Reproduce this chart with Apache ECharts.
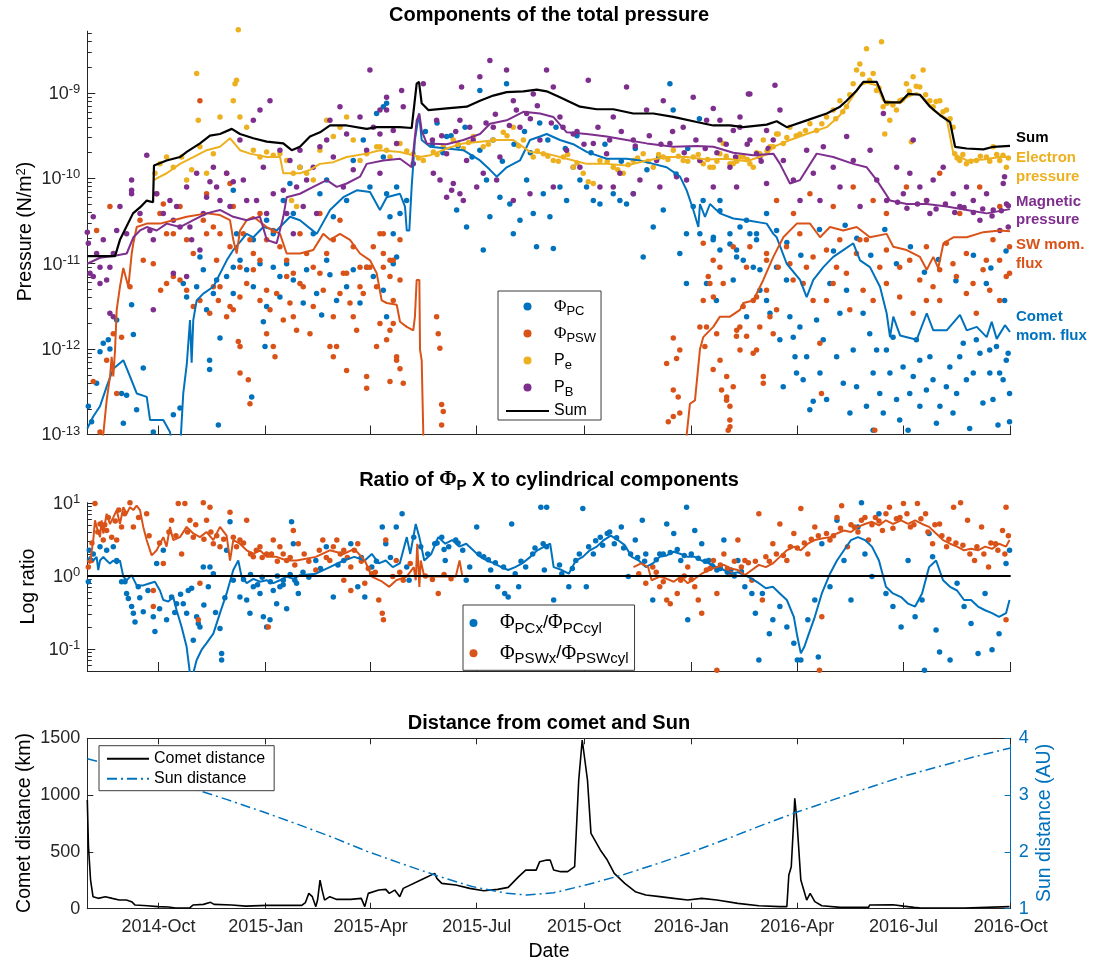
<!DOCTYPE html>
<html><head><meta charset="utf-8">
<script src="https://cdn.jsdelivr.net/npm/echarts@6/dist/echarts.min.js"></script>
<style>html,body{margin:0;padding:0;background:#fff}#c{width:1094px;height:962px}</style>
</head><body><div id="c"></div>
<script>
// x values: days since 2014-08-01; top panel y values stored as log10(pressure in N/m^2)
const tickDays = [61,153,243,334,426,518,609,700,792];
const tickLabels = ['2014-Oct','2015-Jan','2015-Apr','2015-Jul','2015-Oct','2016-Jan','2016-Apr','2016-Jul','2016-Oct'];

const sumLine = [[0,-10.91],[23.8,-10.91],[28,-10.72],[39.2,-10.41],[45.2,-10.34],[51,-10.26],[56.4,-10.28],[57.2,-9.85],[68,-9.79],[79.5,-9.75],[85.3,-9.69],[96.7,-9.59],[105.2,-9.5],[113.8,-9.48],[123.9,-9.42],[131,-9.48],[142.4,-9.53],[153.9,-9.57],[168.1,-9.59],[175.3,-9.67],[182.4,-9.63],[191,-9.51],[199.6,-9.46],[208.2,-9.38],[222.5,-9.38],[239.6,-9.42],[248.2,-9.4],[268.2,-9.4],[278.2,-9.41],[282.5,-8.89],[284.5,-8.87],[286.8,-9.12],[292.5,-9.2],[308.3,-9.18],[325.4,-9.16],[336.8,-9.09],[348.2,-9.03],[359.7,-8.99],[374,-8.98],[385.5,-8.96],[394,-8.98],[405.4,-9.05],[422.6,-9.16],[436.9,-9.19],[451.2,-9.19],[468.3,-9.24],[485.5,-9.24],[502.6,-9.28],[522.7,-9.34],[536.9,-9.38],[551.2,-9.38],[562.7,-9.4],[582.7,-9.37],[591.3,-9.33],[599.9,-9.4],[617,-9.32],[634.2,-9.24],[645.6,-9.16],[651.3,-9.09],[659.9,-8.97],[665.6,-8.87],[677.1,-8.87],[681.4,-9.01],[684.2,-9.11],[697.1,-9.11],[704.2,-9.01],[714.2,-9.02],[722.8,-9.16],[731.4,-9.26],[740,-9.34],[744.3,-9.63],[754.3,-9.65],[768.5,-9.66],[777.1,-9.63],[791.4,-9.62]];

const peLine = [[57.5,-10.02],[59.5,-10.0],[68.1,-9.94],[79.5,-9.83],[90.9,-9.75],[102.4,-9.67],[113.8,-9.63],[122.4,-9.53],[131,-9.67],[139.5,-9.71],[153.9,-9.75],[165.3,-9.75],[168.1,-9.94],[182.4,-9.94],[191,-9.9],[199.6,-9.83],[211,-9.81],[222.5,-9.75],[239.6,-9.71],[251,-9.67],[268.2,-9.69],[279.6,-9.73],[285.4,-9.75],[294,-9.73],[308.3,-9.65],[322.5,-9.59],[336.8,-9.57],[351.1,-9.55],[365.4,-9.55],[379.7,-9.69],[394,-9.71],[411.2,-9.77],[428.3,-9.83],[445.5,-9.83],[462.6,-9.85],[479.8,-9.79],[496.9,-9.75],[514.1,-9.75],[531.3,-9.78],[548.4,-9.77],[565.6,-9.8],[582.7,-9.72],[588.4,-9.63],[602.7,-9.55],[617,-9.48],[634.2,-9.4],[645.6,-9.26],[654.2,-9.09],[662.8,-8.91],[668.5,-8.88],[677.1,-8.91],[682.7,-9.09],[697.1,-9.12],[702.8,-9.05],[711.4,-9.0],[720,-9.09],[725.6,-9.2],[737.1,-9.3],[742.8,-9.71],[754.3,-9.79],[768.5,-9.78],[782.8,-9.75],[791.4,-9.75]];

const pbLine = [[0,-11.0],[10.9,-10.93],[22.3,-10.91],[33.8,-10.88],[39.5,-10.69],[45.2,-10.61],[51,-10.57],[59.5,-10.61],[68.1,-10.53],[79.5,-10.57],[90.9,-10.49],[102.4,-10.41],[113.8,-10.37],[125.2,-10.45],[136.7,-10.49],[148.1,-10.45],[153.9,-10.72],[162.4,-10.76],[168.1,-10.45],[171,-10.22],[182.4,-10.18],[193.8,-10.1],[205.3,-10.02],[213.9,-10.1],[222.5,-10.06],[233.9,-9.98],[239.6,-9.83],[253.9,-9.79],[268.2,-9.77],[278.2,-9.87],[282.5,-9.32],[284.8,-9.24],[286.8,-9.44],[291.1,-9.59],[308.3,-9.6],[322.5,-9.55],[336.8,-9.48],[345.4,-9.36],[359.7,-9.32],[374,-9.22],[388.3,-9.24],[399.7,-9.28],[411.2,-9.46],[428.3,-9.48],[445.5,-9.51],[462.6,-9.55],[479.8,-9.59],[502.6,-9.63],[522.7,-9.62],[536.9,-9.63],[554.1,-9.7],[571.2,-9.73],[588.4,-9.71],[594.1,-9.83],[602.7,-10.06],[611.3,-10.02],[625.6,-9.71],[639.8,-9.75],[657,-9.83],[668.5,-9.87],[677.1,-10.02],[688.5,-10.26],[702.8,-10.3],[720,-10.3],[737.1,-10.33],[754.3,-10.37],[771.4,-10.41],[791.4,-10.36]];

const pcLine = [[0,-12.93],[5.1,-12.79],[10.9,-12.67],[16.6,-12.44],[22.3,-12.23],[30.9,-12.13],[36.6,-12.32],[42.4,-12.52],[51,-12.56],[53.8,-12.83],[65.2,-12.83],[70.9,-12.97],[73.8,-13.2],[79.5,-13.2],[82.3,-12.52],[85.3,-12.18],[88.1,-11.66],[89.5,-12.16],[90.9,-11.66],[93.8,-11.43],[99.5,-11.35],[108.1,-11.27],[119.6,-10.96],[125.2,-10.84],[136.7,-10.65],[142.4,-10.69],[151,-10.57],[162.4,-10.61],[173.9,-10.45],[182.4,-10.49],[196.8,-10.65],[208.2,-10.37],[219.6,-10.22],[231.1,-10.14],[242.5,-10.16],[251,-10.37],[256.8,-10.22],[268.2,-10.18],[272.5,-10.33],[274,-10.61],[276.2,-10.61],[278.2,-10.1],[281,-9.55],[284.5,-9.24],[286.8,-9.55],[294,-9.63],[308.3,-9.65],[322.5,-9.67],[336.8,-9.79],[345.4,-9.9],[351.1,-9.98],[359.7,-9.87],[371.1,-9.79],[379.7,-9.55],[388.3,-9.51],[394,-9.48],[405.4,-9.55],[416.8,-9.6],[428.3,-9.69],[445.5,-9.77],[462.6,-9.77],[474,-9.79],[485.5,-9.83],[496.9,-9.87],[508.4,-9.98],[514.1,-10.14],[519.8,-10.37],[524.1,-10.57],[525.5,-10.3],[529.8,-10.45],[534.1,-10.3],[542.6,-10.41],[554.1,-10.47],[565.6,-10.49],[582.7,-10.53],[588.4,-10.65],[591.3,-10.69],[599.9,-11.0],[611.3,-11.19],[617,-11.39],[622.7,-11.19],[631.3,-11.04],[639.8,-10.92],[648.4,-10.84],[657,-10.76],[662.8,-10.96],[671.3,-11.04],[679.9,-11.27],[685.6,-11.58],[688.5,-11.86],[691.3,-11.62],[697.1,-11.84],[711.4,-11.89],[720,-11.58],[725.6,-11.78],[737.1,-11.78],[748.5,-11.6],[754.3,-11.78],[762.9,-11.74],[771.4,-11.86],[775.7,-11.68],[780,-11.88],[787.1,-11.72],[791.4,-11.8]];

const pswLineA = [[12.5,-13.5],[13.7,-13.0],[16.6,-12.6],[19.5,-12.32],[20.9,-12.09],[22.3,-12.32],[23.8,-12.01],[25.2,-11.54],[28,-11.27],[30.9,-11.05],[35.2,-11.27],[38.1,-10.88],[39.5,-10.76],[42.4,-10.57],[51,-10.53],[62.4,-10.53],[73.8,-10.49],[85.3,-10.45],[102.4,-10.41],[113.8,-10.43],[122.4,-10.49],[125.2,-10.72],[128.1,-10.88],[131,-10.61],[136.7,-10.49],[142.4,-10.45],[153.9,-10.57],[165.3,-10.65],[171,-10.88],[182.4,-10.88],[193.8,-10.84],[202.4,-10.65],[208.2,-10.72],[216.7,-10.65],[225.3,-10.72],[233.9,-10.88],[242.5,-10.96],[248.2,-11.11],[252.5,-11.43],[256.8,-11.46],[265.4,-11.48],[268.2,-11.68],[274,-11.74],[279.6,-11.78],[281,-11.62],[282.5,-11.19],[284.8,-11.19],[285.4,-12.01],[286.8,-12.13],[288.2,-13.0],[289.6,-13.5]];
const pswLineB = [[513.5,-13.5],[514.1,-13.0],[516.9,-12.64],[521.2,-12.6],[525.5,-12.0],[528.3,-11.86],[536.9,-11.74],[542.6,-11.62],[551.2,-11.62],[559.8,-11.54],[562.7,-11.46],[571.2,-11.43],[579.8,-11.19],[588.4,-10.92],[597,-10.69],[608.5,-10.53],[619.9,-10.53],[628.5,-10.69],[637,-10.57],[648.4,-10.61],[659.9,-10.57],[671.3,-10.69],[685.6,-10.65],[691.3,-10.8],[702.8,-10.84],[714.2,-10.92],[720,-11.07],[725.6,-10.92],[729.9,-11.05],[734.3,-10.76],[742.8,-10.69],[754.3,-10.69],[768.5,-10.63],[782.8,-10.61],[791.4,-10.62]];

const pcDots = [[0.9,-12.67],[3.7,-12.85],[8,-12.4],[10.9,-12.03],[13.7,-11.93],[18,-11.89],[19.4,-12.0],[25.2,-11.66],[29.4,-12.52],[30.9,-12.87],[33.7,-12.54],[38,-11.48],[39.5,-11.83],[42.3,-12.71],[48,-12.22],[56.6,-12.97],[73.8,-12.77],[79.5,-12.69],[82.3,-11.23],[85.2,-11.39],[93.8,-11.27],[99.5,-11.07],[104.9,-12.24],[104.9,-12.13],[108.1,-11.35],[112.4,-12.89],[113.8,-11.87],[119.5,-11.15],[125.2,-11.04],[136.7,-11.07],[141,-12.56],[142.4,-11.27],[151,-11.68],[152.4,-11.97],[159.5,-11.04],[165.2,-11.15],[171,-11.0],[185.2,-11.46],[201,-11.6],[208.1,-11.13],[222.4,-11.27],[239.6,-11.04],[253.9,-11.31],[256.7,-11.62],
[125.2,-10.14],[128,-10.65],[142.4,-10.72],[153.8,-10.49],[159.5,-10.65],[168.1,-10.26],[173.8,-10.06],[176.7,-10.41],[182.4,-9.87],[193.8,-10.65],[199.5,-10.18],[205.3,-10.02],[211,-10.45],[222.4,-10.26],[228.1,-9.79],[236.7,-9.55],[242.4,-10.1],[248.1,-9.24],[253.9,-9.75],[256.7,-9.12],[259.6,-10.45],[265.3,-10.1],
[96.6,-10.92],[102.3,-11.54],[110.9,-11.19],[125.2,-11.35],[131,-10.96],[148.1,-11.0],[153.8,-11.5],[165.2,-11.39],[176.7,-11.19],[188.1,-11.07],[196.7,-11.35],[205.3,-10.96],[213.8,-11.43],[228.1,-11.07],[233.9,-11.46],[245.3,-11.15],[262.4,-11.0],
[253.9,-9.16],[256.7,-10.18],[262.4,-10.65],[265.3,-10.92],[268.2,-10.41],[273.9,-10.26],[308.2,-9.51],[316.8,-10.37],[325.3,-10.57],[336.7,-8.97],[336.7,-9.67],[339.6,-10.84],[342.4,-10.02],[345.3,-10.45],[353.9,-10.22],[359.6,-8.89],[362.4,-10.3],[365.4,-10.65],[371.1,-10.49],[376.8,-10.02],[382.5,-10.41],[385.3,-10.8],[391.1,-10.18],[396.8,-10.45],[399.7,-10.82],[405.4,-10.1],[411.1,-10.26],[416.8,-9.87],[422.5,-10.02],[428.2,-10.1],[434,-10.26],[439.7,-10.3],[451.1,-10.18],[456.8,-10.26],[462.5,-10.3],[468.3,-10.18],[476.8,-10.92],[485.4,-10.57],[494,-10.37],[499.7,-8.89],[502.5,-9.2],[508.2,-10.88],[513.9,-10.65],[513.9,-11.23],[519.7,-10.33],[528.2,-10.26],[536.8,-10.72],[542.6,-10.26],[551.2,-10.65],[556.9,-10.84],[565.4,-10.49],[574,-10.65],[582.6,-10.41],[591.2,-10.61],
[290,-9.45],[296,-9.6],[300,-9.35],[305,-9.7],[312,-9.5],[318,-9.62],[324,-9.4],[330,-9.75],[348,-9.55],[356,-9.8],[366,-9.6],[375,-9.45],[380,-9.7],[388,-9.35],[395,-9.55],[402,-9.4],[410,-9.65],[420,-9.5],[432,-9.7],[444,-9.6],[458,-9.8],[470,-9.65],[480,-9.9],[490,-9.75],[505,-9.95],[515,-9.65],[525,-9.3],
[525.4,-10.65],[537,-10.69],[542.6,-10.84],[551.2,-10.77],[556.9,-10.92],[562.6,-10.96],[568.3,-10.65],[576.9,-11.31],[582.6,-11.43],[585.5,-11.58],[591.2,-11.04],[599.7,-11.19],[602.6,-11.62],[605.5,-11.86],[607,-12.09],[608.3,-12.28],[611.2,-11.74],[614,-12.36],[619.7,-12.71],[622.6,-12.61],[625.5,-11.66],[631.2,-11.89],[636.9,-11.23],[645.5,-11.58],[651.2,-11.31],[656.9,-12.01],[665.4,-11.58],[668.3,-12.67],[671.1,-11.82],[674,-12.28],[674,-12.95],[679.7,-12.52],[685.4,-12.01],[691.1,-11.86],[696.8,-12.83],[699.7,-12.21],[704,-12.95],[705.4,-12.52],[711.1,-11.89],[714,-12.13],[719.7,-12.48],[725.4,-12.36],[728.3,-12.87],[736.8,-12.44],[742.5,-12.75],[748.3,-12.09],[754,-12.36],[756.8,-12.93],[762.5,-11.89],[768.2,-12.63],[771.1,-11.23],[774,-12.01],[776.8,-12.59],[781.1,-12.89],[782.5,-12.28],[786.8,-11.43],[788.2,-12.13],[791,-12.52],[791,-12.85],[542.6,-10.38],[559.8,-10.57],[574,-10.72],[576.9,-11.07],
[531.1,-11.23],[539.6,-11.43],[554,-11.19],[565.5,-11.62],[571.2,-11.04],[594,-11.89],[596.9,-12.44],[617,-12.09],[628.4,-12.28],[634.1,-12.59],[642.7,-12.09],[648.4,-12.4],[654.1,-12.75],[659.8,-12.44],[677,-12.01],[682.7,-12.75],[688.4,-12.28],[694.1,-12.59],[708.4,-12.32],[714.1,-12.67],[722.7,-12.09],[731.3,-12.67],[739.8,-12.21],[745.6,-12.52],[751.3,-11.93],[759.9,-12.28],[765.6,-12.05],[774.1,-12.28],[779.8,-11.97],[785.5,-12.36],[789.8,-12.05],
[600,-10.75],[612,-10.9],[628,-10.6],[640,-10.85],[650,-10.55],[660,-10.7],[672,-10.9],[684,-10.6],[694,-11.0],[706,-10.8],[718,-11.1],[730,-10.95],[745,-11.2],[760,-10.9],[775,-11.05],[788,-10.85]];

const pswDots = [[5.1,-12.38],[10.9,-12.97],[16.6,-12.13],[22.3,-11.82],[25.2,-12.52],[29.4,-11.86],[36.6,-11.27],[48,-10.96],[56.6,-11.0],[62.9,-11.31],[68,-11.23],[73.8,-11.15],[79.5,-11.19],[85.2,-11.31],[90.9,-11.5],[96.6,-11.43],[105,-11.58],[113.8,-11.27],[122.4,-11.5],[129.5,-11.91],[131,-11.97],[131,-12.28],[138.1,-12.36],[139.5,-12.64],[153.8,-11.31],[156.7,-11.54],[159.5,-11.97],[161,-12.09],[171,-11.15],[176.7,-11.62],[182.4,-11.23],[191,-11.82],[199.5,-11.11],[208.1,-11.97],[211,-12.09],[216.7,-11.35],[222.4,-12.25],[228.1,-11.62],[233.9,-11.27],[239.6,-12.32],[239.6,-12.46],[248.1,-11.97],
[108.1,-11.27],[112.4,-11.43],[119.5,-11.62],[125.2,-11.54],[130.9,-11.39],[136.7,-11.23],[142.4,-11.07],[148.1,-11.43],[153.8,-11.82],[162.4,-11.35],[168.1,-11.66],[173.8,-11.46],[179.5,-11.78],[185.2,-11.27],[193.8,-11.5],[202.4,-11.31],[211,-11.62],[213.8,-11.97],[219.6,-11.11],[225.3,-11.46],[231,-11.78],[236.7,-11.35],[242.4,-11.04],[251,-11.7],[256.7,-11.89],[262.4,-11.43],[265.3,-12.13],
[8,-10.61],[19.4,-10.33],[45.2,-10.49],[59.5,-10.18],[65.2,-10.3],[73.8,-10.65],[85.2,-10.72],[96.6,-9.09],[99.5,-10.49],[102.3,-10.18],[108.1,-10.57],[113.8,-10.65],[119.5,-9.94],[122.4,-10.06],[125.2,-10.33],[133.8,-10.65],[142.4,-10.88],[148.1,-10.41],[153.8,-10.72],[159.5,-10.61],[171,-10.96],[182.4,-10.65],[188.1,-10.88],[199.5,-10.41],[211,-10.72],[216.7,-10.49],[228.1,-10.8],[233.9,-11.04],[245.3,-10.8],[253.9,-10.65],[259.6,-10.96],
[62.3,-10.41],[68,-10.65],[79.5,-10.33],[90.9,-10.88],[102.3,-10.65],[110.9,-10.96],[122.4,-10.8],[130.9,-11.04],[139.5,-10.72],[148.1,-10.96],[165.2,-10.8],[176.7,-11.11],[193.8,-11.04],[205.3,-10.88],[222.4,-11.11],[239.6,-11.04],[248.1,-11.27],
[251,-10.65],[253.9,-10.88],[259.6,-11.15],[262.4,-10.96],[268.2,-10.72],[268.2,-11.19],[253.9,-11.04],[259.6,-11.78],[262.4,-11.7],[265.3,-12.09],[268.2,-12.23],[271,-12.4],[259.6,-12.38],[299.6,-11.62],[301,-11.82],[302.4,-11.99],[303.9,-12.65],[305.3,-12.73],[303.9,-12.89],
[496.9,-12.17],[502.6,-11.87],[505.4,-12.11],[508.2,-12.01],[502.6,-12.48],[506.8,-12.56],[508.2,-12.75],[498.3,-12.85],[502.6,-12.79],[525.4,-11.74],[529.7,-11.97],[532.6,-11.15],[537,-11.39],[539.8,-11.82],[542.7,-12.13],[548.4,-12.32],[548.4,-12.56],[551.2,-12.67],[551.2,-12.91],[557,-11.78],[559.8,-12.01],[565.5,-11.85],[574,-12.01],[579.8,-12.32],[579.8,-12.4],[571.2,-11.43],[585.5,-11.62],
[528.3,-11.43],[531.1,-11.74],[536.8,-12.24],[544,-12.48],[548.3,-12.6],[551.1,-12.83],[554,-12.44],[549.7,-12.95],[534,-11.23],[542.6,-11.04],[556.8,-11.85],[562.5,-11.5],[571.1,-12.05],[576.8,-11.74],[582.6,-11.31],[588.3,-11.82],[592.6,-11.04],[599.7,-10.8],[605.4,-11.19],[611.1,-10.65],[616.8,-11.04],[622.5,-11.43],[629.7,-12.52],[628.3,-11.93],[634,-10.84],[639.7,-11.23],[645.4,-10.72],[651.1,-11.11],[659.7,-10.88],[665.4,-11.31],[668.2,-10.72],[675.4,-12.95],[679.7,-11.04],[685.4,-10.84],[696.8,-11.39],[705.4,-10.96],[714,-11.19],[719.7,-11.43],[725.4,-11.27],[731.1,-11.07],[736.8,-10.76],[745.4,-11.15],[754,-10.88],[759.7,-11.23],[768.3,-11.07],[774,-11.31],[776.8,-10.72],[782.5,-10.96],[788.2,-11.15],[791,-10.8],
[528.3,-10.76],[536.8,-10.96],[545.4,-11.23],[554,-10.8],[559.7,-11.74],[565.4,-11.04],[574,-11.39],[582.6,-10.88],[591.2,-11.54],[602.6,-11.0],[614,-11.23],[622.5,-10.92],[634,-11.43],[642.6,-11.04],[654,-11.54],[662.6,-10.72],[674,-11.43],[685.4,-11.23],[696.8,-11.04],[708.3,-11.58],[719.7,-10.8],[731.1,-11.43],[742.5,-11.0],[754,-11.35],[762.5,-11.58],[771.1,-10.96],[782.5,-11.43],[791,-11.11],
[591.2,-10.26],[605.7,-10.41],[619.8,-10.18],[639.8,-10.33],[656.9,-10.1],[674,-10.26],[685.4,-10.41],[702.6,-10.1],[719.7,-10.26],[731.1,-9.94],[748.3,-10.41],[765.4,-10.1],[782.6,-10.33],[568.3,-10.8],[582.6,-10.96]];

const peDots = [[58,-9.94],[62.3,-9.83],[68,-9.75],[73.8,-9.87],[80.9,-9.75],[85.2,-10.02],[89.5,-9.9],[93.8,-8.77],[95.2,-9.32],[96.6,-9.63],[102.3,-9.94],[108.1,-9.71],[113.8,-9.28],[125.2,-9.09],[126.7,-8.89],[128,-8.85],[129.5,-8.26],[130.9,-9.28],[136.7,-9.4],[142.4,-9.67],[148.1,-9.75],[153.8,-9.69],[159.5,-9.73],[165.2,-9.71],[171,-9.79],[176.7,-9.94],[182.4,-9.87],[188.1,-9.94],[193.8,-10.02],[175.2,-10.26],[179.5,-10.33],[199.5,-9.67],[205.3,-9.32],[211,-9.51],[216.7,-9.4],[222.4,-9.28],[228.1,-9.55],[233.9,-9.79],[239.6,-9.71],[248.2,-9.63],[256.7,-9.67],[265.3,-9.59],
[251,-9.63],[259.6,-9.75],[268.2,-9.59],[279.6,-9.71],[288.2,-9.79],[296.8,-9.69],[305.3,-9.63],[313.9,-9.55],[322.5,-9.65],[331.1,-9.51],[339.6,-9.63],[348.2,-9.55],[356.8,-9.46],[365.4,-9.4],[374,-9.55],[382.5,-9.75],[391.1,-9.71],[399.7,-9.79],[408.3,-9.75],[416.8,-9.87],[425.4,-9.94],[429.7,-10.04],[434,-10.06],[439.7,-9.79],[451.1,-9.87],[459.7,-9.94],[468.3,-9.79],[476.8,-9.71],[485.4,-9.87],[494,-9.75],[502.6,-9.67],[511.1,-9.79],[519.7,-9.75],[528.3,-9.83],[536.9,-9.87],[545.5,-9.59],[554,-9.83],[562.6,-9.75],[571.2,-9.87],[579.8,-9.55],[588.3,-9.63],[592.6,-9.48],
[525.4,-9.79],[534,-9.87],[542.6,-9.71],[551.2,-9.83],[559.8,-9.75],[568.3,-9.83],[576.9,-9.71],[585.5,-9.63],[591.2,-9.48],[596.9,-9.59],[602.6,-9.4],[611.2,-9.48],[619.8,-9.36],[625.5,-9.44],[634.1,-9.28],[639.8,-9.2],[645.5,-9.09],[651.2,-9.16],[656.9,-8.89],[659.8,-8.73],[662.6,-8.66],[668.3,-8.48],[681.2,-8.4],[674,-8.77],[676.9,-8.97],[682.6,-9.16],[684,-9.48],[688.3,-9.32],[694,-9.2],[696.9,-9.09],[702.6,-8.89],[708.3,-8.81],[714,-8.93],[716.9,-8.73],[722.6,-9.09],[725.5,-9.16],[731.2,-9.09],[736.9,-9.2],[742.6,-9.4],[744,-9.71],[748.3,-9.79],[754,-9.83],[762.6,-9.79],[771.2,-9.75],[776.9,-9.63],[782.6,-9.79],[785.4,-9.73],[788.3,-9.87],[706.8,-9.57],
[274,-9.68],[284,-9.76],[300,-9.72],[318,-9.6],[327,-9.58],[344,-9.6],[360,-9.5],[370,-9.62],[386,-9.68],[395,-9.74],[404,-9.8],[412,-9.72],[420,-9.82],[446,-9.8],[455,-9.9],[464,-9.84],[472,-9.76],[481,-9.8],[490,-9.72],[498,-9.78],[507,-9.74],[515,-9.8],[524,-9.72],[532,-9.78],[540,-9.8],[548,-9.74],[557,-9.8],[566,-9.78],[574,-9.7],[583,-9.68],[600,-9.52],[608,-9.5],[616,-9.44],[630,-9.36],[642,-9.3],[648,-9.22],[654,-9.02],[665,-8.78],[671,-8.85],[679,-8.94],[686,-9.12],[691,-9.14],[699,-9.08],[705,-8.98],[711,-8.92],[719,-9.02],[728,-9.1],[734,-9.22],[740,-9.3],[746,-9.76],[751,-9.72],[758,-9.8],[766,-9.74],[774,-9.8],[780,-9.72],[790,-9.76]];

const pbDots = [[0,-10.63],[0.9,-10.76],[2.3,-11.11],[8,-10.88],[10.9,-11.04],[19.4,-11.04],[25.2,-10.61],[28,-10.33],[38,-10.02],[38,-10.14],[38,-10.18],[51,-9.73],[53.7,-10.61],[59.5,-10.18],[65.2,-10.41],[70.9,-10.26],[73.8,-10.49],[79.5,-10.57],[85.2,-10.1],[89.5,-10.72],[93.8,-9.94],[96.6,-10.84],[102.3,-10.22],[105.2,-10.04],[108.1,-9.87],[113.8,-10.26],[119.5,-9.94],[125.2,-10.04],[130.9,-9.55],[136.7,-10.26],[142.4,-9.32],[148.1,-9.2],[151,-9.87],[153.8,-10.41],[156.7,-9.09],[159.5,-10.18],[165.2,-9.67],[168.1,-10.14],[171,-10.41],[173.8,-9.79],[176.7,-10.65],[179.5,-10.1],[182.4,-9.67],[185.2,-10.33],[188.1,-10.02],[193.8,-9.87],[196.7,-10.41],[199.5,-9.63],[205.3,-9.55],[208.1,-9.32],[211,-9.75],[216.7,-9.16],[219.6,-10.1],[222.4,-9.48],[228.1,-9.9],[233.9,-9.28],[239.6,-9.67],[242.4,-8.73],[245.3,-9.4],[251,-9.2],[256.7,-9.05],[262.4,-9.44],[265.3,-9.59],
[5.1,-11.15],[10.9,-11.23],[16.6,-11.19],[19.4,-11.58],[22.3,-11.62],[56.6,-11.54],[73.8,-11.11],[85.2,-11.15],
[5.1,-10.45],[13.7,-10.72],[22.3,-10.88],[33.7,-10.65],[45.2,-10.41],[56.6,-10.72],[76.6,-10.33],[88,-10.57],[99.5,-10.41],[110.9,-10.1],[122.4,-10.33],[133.8,-10.02],[145.2,-10.26],
[251,-9.48],[256.7,-9.2],[269.6,-8.97],[271,-9.16],[279.6,-9.83],[288.2,-8.89],[299.6,-9.32],[302.5,-10.02],[308.2,-9.71],[313.9,-10.06],[319.6,-9.32],[321,-8.93],[325.3,-9.79],[331,-9.55],[336.7,-8.81],[339.6,-9.94],[345.3,-8.62],[348.2,-9.4],[353.9,-9.75],[359.6,-8.73],[365.4,-9.09],[371.1,-9.4],[376.8,-9.24],[382.5,-9.01],[388.2,-9.55],[393.9,-8.73],[399.7,-8.93],[405.4,-9.28],[411.1,-9.67],[416.8,-9.48],[422.5,-9.87],[429.7,-8.85],[434,-9.59],[439.7,-10.1],[445.4,-9.71],[451.1,-9.28],[456.8,-9.94],[462.5,-8.93],[468.3,-9.55],[474,-10.02],[479.7,-9.2],[488.3,-9.79],[494,-9.09],[499.7,-9.59],[505.4,-9.98],[511.1,-9.4],[519.7,-9.05],[525.4,-9.79],[531.2,-9.32],[536.9,-10.1],[542.6,-9.55],[551.2,-9.87],[559.7,-9.4],[568.3,-9.01],[574,-9.71],[582.6,-10.06],[588.3,-9.55],[312.5,-10.14],[308.2,-10.22],[319.6,-10.18],[251,-9.94],
[296.8,-9.94],[322.5,-10.26],[334,-10.1],[351.1,-10.02],[365.4,-10.26],[379.7,-10.18],[399.7,-10.1],[451.1,-10.1],[468.3,-10.18],[491.1,-10.1],[514,-10.02],[556.9,-10.1],
[296,-9.55],[304,-9.5],[316,-9.45],[328,-9.4],[342,-9.35],[350,-9.25],[362,-9.38],[368,-9.2],[380,-9.3],[386,-9.15],[398,-9.35],[408,-9.4],[420,-9.45],[426,-9.6],[438,-9.4],[448,-9.55],[458,-9.45],[470,-9.62],[482,-9.5],[492,-9.6],[502,-9.45],[512,-9.7],[522,-9.55],[530,-9.65],[540,-9.7],[548,-9.6],[556,-9.75],[566,-9.6],[578,-9.8],[584,-9.65],
[536.9,-9.18],[542.6,-9.32],[554.1,-9.44],[559.8,-9.28],[567,-9.01],[568.3,-9.55],[576.9,-9.75],[582.6,-9.44],[589.8,-8.91],[594.1,-9.2],[597,-9.79],[605.6,-10.02],[611.3,-10.26],[617,-9.67],[622.7,-9.94],[628.4,-10.26],[631.3,-9.63],[639.8,-9.87],[645.6,-10.1],[651.3,-9.51],[657,-9.79],[662.8,-10.33],[671.4,-9.67],[677.1,-10.02],[682.8,-9.24],[685.6,-10.26],[694.2,-9.87],[699.9,-10.18],[705.5,-9.94],[708.4,-9.55],[714.1,-10.1],[722.7,-10.41],[725.5,-10.02],[734.1,-9.87],[742.7,-10.18],[748.4,-10.33],[754.1,-10.1],[759.9,-10.26],[765.6,-10.49],[771.3,-10.18],[777,-10.37],[782.7,-10.61],[785.6,-10.06],[788.4,-10.3],[789.9,-10.57],[786.7,-9.98],
[695,-10.28],[703,-10.35],[712,-10.3],[720,-10.26],[728,-10.36],[736,-10.3],[744,-10.4],[752,-10.34],[760,-10.4],[768,-10.36],[776,-10.44],[784,-10.38],[790,-10.32]];

// middle panel: log10 of the ratio
const pcRatioLine = [[0,0.21],[2.3,0.26],[5.1,0.21],[8,0.26],[9.4,0.08],[10.9,0.21],[13.7,0.26],[16.6,0.21],[19.4,0.17],[22.3,0.21],[25.2,0.17],[28,0.21],[30.9,-0.01],[33.7,-0.06],[38,0.01],[42.3,-0.13],[48,-0.13],[53.7,-0.1],[58,-0.08],[62.3,-0.2],[65.2,-0.33],[69.5,-0.35],[73.7,-0.29],[76.6,-0.47],[80.9,-0.7],[85.2,-0.97],[88,-1.33],[90.9,-1.33],[93.8,-1.15],[98.1,-1.01],[102.3,-0.92],[108.1,-0.79],[113.8,-0.51],[119.5,-0.24],[125.2,0.08],[129.5,0.21],[132.3,-0.01],[136.7,-0.1],[142.4,-0.04],[148.1,-0.08],[153.8,-0.06],[159.5,-0.1],[165.2,-0.06],[171,-0.01],[176.7,-0.04],[182.4,0.01],[196,0.03],[208,0.12],[220,0.21],[229,0.26],[238,0.21],[244,0.3],[250,0.17],[256,0.21],[262,0.12],[268,0.17],[274,0.53],[277,0.3],[281.7,0.71],[284.8,0.53],[289,0.21],[295,0.3],[301,0.53],[307,0.44],[313,0.49],[319,0.4],[325,0.44],[331,0.35],[337,0.26],[343,0.21],[349,0.17],[355,0.12],[361,0.08],[367,0.12],[373,0.17],[380,0.26],[386,0.35],[392,0.4],[397,0.44],[400,0.12],[407,0.08],[413,0.03],[419,0.21],[425,0.26],[431,0.35],[437,0.4],[443,0.49],[449,0.55],[455,0.49],[461,0.42],[467,0.26],[473,0.21],[479,0.12],[485,0.17],[491,0.26],[497,0.28],[503,0.33],[509,0.3],[515,0.26],[521,0.26],[527,0.21],[533,0.17],[540,0.12],[546,0.08],[552,0.03],[558,0.05],[564,0.01],[570,-0.04],[576,-0.1],[582,-0.17],[588,-0.15],[594,-0.24],[600,-0.33],[606,-0.56],[609,-0.83],[612,-1.06],[615,-0.97],[618,-0.83],[624,-0.56],[630,-0.24],[637,0.03],[643,0.21],[649,0.35],[655,0.49],[661,0.53],[667,0.49],[673,0.4],[679,0.21],[685,-0.15],[691,-0.24],[698,-0.29],[704,-0.38],[710,-0.42],[716,-0.24],[722,0.12],[728,0.21],[734,-0.06],[740,-0.15],[746,-0.2],[752,-0.33],[758,-0.33],[764,-0.42],[770,-0.47],[776,-0.51],[782,-0.56],[788,-0.51],[791,-0.33]];

const pswRatioLineA = [[0,0.21],[2.3,0.17],[5.1,0.49],[6.6,0.76],[8,0.67],[10.9,0.53],[12.3,0.76],[13.7,0.58],[16.6,0.85],[19.4,0.71],[22.3,0.8],[25.2,0.9],[28,0.71],[30.9,0.94],[33.7,0.85],[36.6,0.94],[39.5,0.9],[42.3,0.96],[45.2,0.9],[48,0.67],[50.9,0.49],[55.2,0.28],[59.5,0.35],[65.2,0.53],[68,0.4],[70.9,0.67],[73.7,0.49],[79.5,0.53],[85.2,0.67],[90.9,0.58],[96.6,0.53],[102.3,0.6],[108.1,0.49],[113.8,0.67],[119.5,0.55],[122.4,0.21],[125.2,0.49],[130.9,0.44],[136.7,0.35],[142.4,0.3],[148.1,0.35],[153.8,0.26],[162.4,0.26],[171,0.21],[179.5,0.21],[196,0.26],[208,0.35],[220,0.3],[229,0.37],[238,0.21],[244,-0.01],[253,-0.08],[259,-0.15],[265,-0.06],[274,-0.01],[280,0.12],[281.7,-0.06],[283,0.44],[284.8,-0.15],[286,0.21],[289,-0.01],[298,-0.01],[310,-0.01],[316,-0.01],[319.3,0.21],[321.7,-0.01]];
const pswRatioLineB = [[468.5,0.12],[475,0.17],[481,0.12],[484,-0.06],[491,-0.01],[497,-0.04],[503,-0.08],[509,-0.01],[515,-0.1],[521,-0.04],[527,0.03],[533,0.08],[540,0.12],[546,0.15],[552,0.1],[558,0.08],[564,0.01],[570,0.08],[576,0.15],[582,0.12],[588,0.17],[594,0.26],[600,0.35],[606,0.4],[612,0.35],[618,0.44],[624,0.49],[630,0.51],[637,0.53],[643,0.58],[649,0.62],[655,0.6],[661,0.67],[667,0.71],[673,0.74],[679,0.69],[685,0.76],[691,0.71],[698,0.76],[704,0.71],[710,0.76],[716,0.71],[722,0.67],[728,0.58],[734,0.49],[740,0.44],[746,0.4],[752,0.35],[758,0.37],[764,0.35],[770,0.4],[776,0.37],[782,0.44],[788,0.4],[791,0.49]];

const pcRatioDots = [[0.9,-0.08],[1.7,0.35],[5.1,0.3],[10.9,0.4],[16.6,0.35],[22.3,0.4],[25.2,0.21],[29.4,-0.08],[32.3,-0.08],[33.7,-0.24],[35.2,-0.31],[38,-0.42],[39.5,-0.51],[40.9,-0.63],[43.7,-0.15],[48,-0.49],[56.6,-0.56],[58,-0.76],[59.5,0.17],[65.2,0.35],[72.3,-0.29],[76.6,-0.38],[82.3,-0.38],[85.2,-0.51],[86.6,-0.2],[89.5,-0.17],[90.9,-0.88],[93.8,-0.56],[95.2,-0.65],[96.6,-0.7],[99.5,0.12],[103.8,-0.15],[105.2,0.12],[108.1,0.03],[113.8,-0.72],[115.2,-1.06],[115.2,-1.15],[119.5,0.35],[122.4,0.74],[125.2,-0.06],[130.9,-0.29],[136.7,-0.33],[139.5,-0.51],[142.4,-0.15],[148.1,-0.24],[151,-0.56],[153.8,-0.7],[156.7,-0.6],[159.5,-0.2],[162.4,-0.38],[165.2,-0.15],[168.1,-0.06],[171,-0.45],[175.2,0.74],[176.7,0.44],[179.5,-0.1],[181,-0.24],
[45,-0.3],[52,-0.2],[62,-0.45],[68,-0.6],[75,-0.5],[80,-0.25],[100,-0.4],[110,-0.5],[118,-0.3],
[196,0.21],[205,0.4],[211,-0.29],[220,0.21],[226,0.44],[232,-0.15],[238,-0.29],[244,0.12],[253,0.67],[256,0.44],[265,0.67],[270,0.85],[274,0.12],[276,-0.06],[280,0.53],[286,0.4],[292,0.3],[298,0.44],[304,0.53],[307,0.21],[310,0.4],[316,0.49],[322,0.35],[325,-0.06],[328,0.12],[334,0.67],[340,0.26],[346,0.08],[352,-0.15],[358,-0.24],[361,-0.29],[364,0.71],[367,0.03],[370,-0.15],[376,0.12],[382,0.3],[389,0.94],[392,0.08],[394,0.4],
[391,0.44],[394,0.94],[400,-0.33],[407,0.03],[413,-0.15],[419,0.21],[425,0.92],[428,-0.15],[434,0.3],[440,0.53],[446,0.58],[452,0.44],[458,0.67],[464,-0.01],[470,0.49],[476,0.76],[479,0.3],[485,-0.33],[491,0.3],[497,0.71],[503,0.58],[509,0.21],[514,0.94],[515,-0.6],[521,0.62],[527,0.44],[533,0.21],[540,0.08],[546,0.49],[552,0.08],[558,0.21],[564,-0.15],[570,-0.24],[573,-0.51],[576,-1.15],[579,-0.24],[585,-0.79],[588,-0.6],[594,-0.42],[600,-0.7],[606,-0.92],[609,-1.15],[612,-1.15],[618,-0.6],[624,-0.33],[627,-1.11],[630,0.44],[637,-0.15],[643,0.76],[649,0.21],[655,-0.33],[661,0.67],[664,1.0],[667,0.3],[673,-0.01],[679,0.85],[685,-0.24],[691,-0.42],[698,-0.7],[704,0.21],[710,-0.56],[716,-0.33],[718,-1.29],[722,0.58],[725,0.26],[728,-0.74],[731,-1.04],[740,-1.15],[746,-0.1],[752,-0.42],[758,-0.65],[764,-1.06],[770,-0.24],[776,-1.01],[782,-0.79],[788,0.17],[791,0.35],
[134,-0.05],[140,0.02],[146,-0.12],[150,-0.02],[157,-0.08],[163,0.0],[168,-0.12],[174,0.02],[178,-0.06],[185,0.05],[190,-0.02],[200,0.1],[215,0.15],[235,0.25],[248,0.2],[260,0.25],[300,0.45],[306,0.36],[318,0.45],[336,0.3],[344,0.22],[350,0.18],[357,0.12],[372,0.2],[384,0.38],[405,0.15],[416,0.1],[422,0.3],[430,0.4],[436,0.48],[442,0.42],[448,0.6],[454,0.52],[460,0.38],[466,0.3],[472,0.25],[478,0.2],[488,0.22],[494,0.3],[500,0.32],[506,0.36],[512,0.28],[518,0.3],[524,0.24],[530,0.2],[536,0.14],[543,0.1],[549,0.05],[555,0.0],[561,0.06]];

const pswRatioDots = [[0.9,0.12],[3.7,0.21],[6.6,0.99],[10.9,0.71],[13.7,0.49],[16.6,0.62],[20.9,0.53],[25.2,0.49],[29.4,0.67],[36.6,1.0],[39.5,0.67],[50.9,0.85],[56.6,-0.2],[56.6,-0.42],[65.2,0.17],[72.3,0.76],[78,0.99],[80.9,0.3],[83.7,0.99],[88,0.76],[90.9,0.53],[95.2,-0.6],[96.6,-0.1],[99.5,1.0],[102.3,0.76],[105.2,0.94],[108.1,0.44],[113.8,0.4],[122.4,0.87],[125.2,0.53],[130.9,0.49],[136.7,0.76],[142.4,0.26],[148.1,0.4],[153.8,0.3],[155.2,-0.7],[159.5,0.49],[165.2,0.4],[171,0.21],[176.7,0.62],[181,0.44],
[196,0.08],[202,0.49],[208,0.21],[214,0.49],[220,0.35],[226,0.12],[232,0.44],[238,-0.1],[244,0.03],[250,-0.33],[253,-0.51],[254,-0.6],[226,-0.2],[220,-0.06],[256,0.49],[262,-0.01],[265,0.21],[271,-0.06],[277,0.17],[301,-0.24],
[473,0.03],[479,-0.1],[485,0.12],[491,-0.15],[497,-0.33],[500,-0.38],[506,-0.24],[509,-0.06],[515,0.12],[521,-0.15],[524,-0.33],[527,-0.51],[531,0.08],[537,0.21],[540,-0.24],[546,0.3],[552,0.03],[558,0.49],[564,0.21],[570,-0.06],[576,0.85],[579,-0.33],[582,0.26],[588,0.44],[594,0.71],[600,0.21],[606,0.58],[612,0.92],[618,0.3],[624,0.67],[628,-1.29],[630,-0.56],[637,0.49],[643,0.8],[647,0.96],[652,0.4],[658,0.67],[664,0.76],[670,0.49],[676,0.8],[682,0.62],[688,0.94],[694,0.78],[700,0.99],[706,0.67],[712,0.99],[719,0.85],[725,0.44],[731,0.71],[737,0.4],[743,0.94],[749,1.0],[755,0.76],[761,0.21],[767,0.67],[773,0.12],[779,0.44],[785,0.62],[788,0.94],[788,-0.6],[540,-1.29],
[4,0.45],[9,0.6],[15,0.7],[18,0.8],[24,0.75],[27,0.9],[32,0.85],[44,0.8],[53,0.55],[62,0.45],[70,0.6],[76,0.55],[86,0.6],[93,0.7],[100,0.5],[106,0.6],[111,0.55],[117,0.5],[128,0.4],[134,0.45],[140,0.3],[145,0.35],[150,0.25],[158,0.3],[163,0.2],[168,0.3],[174,0.25],[178,0.15],[186,0.3],[190,0.2],[199,0.35],[205,0.25],[211,0.4],[217,0.3],[223,0.25],[229,0.35],[235,0.2],[241,0.1],[247,0.05],[268,0.05],[290,0.0],[296,-0.05],[306,0.02],[312,-0.04],
[488,0.05],[494,-0.08],[512,0.0],[518,-0.05],[534,0.1],[543,0.15],[549,0.1],[555,0.2],[561,0.12],[567,0.18],[573,0.2],[585,0.2],[591,0.3],[597,0.28],[603,0.4],[609,0.38],[615,0.45],[621,0.5],[627,0.55],[634,0.58],[640,0.55],[646,0.65],[655,0.7],[661,0.6],[667,0.8],[673,0.7],[679,0.75],[685,0.85],[691,0.65],[697,0.8],[703,0.85],[709,0.7],[715,0.78],[721,0.6],[727,0.7],[733,0.55],[739,0.5],[745,0.45],[751,0.42],[757,0.3],[763,0.4],[769,0.3],[775,0.45],[781,0.35],[787,0.3],[790,0.55]];
const unityLine = [[0,1],[792,1]];

// bottom panel
const cometDist = [[0,957],[1,546],[2.8,252],[4.9,106],[9.4,91],[15.5,106],[21.4,91],[27.4,76],[33.5,76],[38,62],[41,32],[51.5,26],[60.6,18],[69.6,15],[75.6,6],[87.6,6],[90.6,32],[99.6,38],[105.7,56],[108.7,38],[123.8,32],[135.9,23],[153.9,29],[165.9,29],[184,29],[187,53],[190,135],[193,106],[196,18],[197.5,76],[199.6,252],[201.4,164],[203.5,76],[208,106],[214,82],[226,82],[235,91],[238,18],[241,135],[250,164],[256,170],[259,135],[263.7,164],[268,106],[271,179],[286,252],[298,311],[299.8,267],[304,223],[316,208],[328,179],[340,158],[352,170],[361,188],[370,282],[376,340],[385,340],[388,414],[394,428],[397,428],[400,340],[406,326],[412,326],[418,370],[421.5,1133],[424.5,1485],[426,1485],[429,1133],[432,663],[440,517],[446,428],[452,311],[461,223],[470,150],[479,120],[491,106],[503,91],[515,76],[527,91],[540,76],[558,47],[576,26],[594,18],[600,18],[601.7,296],[603.8,370],[605.6,722],[606.8,971],[608.6,781],[612,252],[617,76],[620,135],[624,62],[630,26],[646,12],[670,12],[671,32],[691,35],[700,23],[709,12],[715,6],[752,6],[791,18]];
const sunDist = [[0,3.64],[30,3.48],[60,3.30],[90,3.12],[120,2.92],[150,2.71],[180,2.49],[210,2.26],[240,2.01],[270,1.79],[300,1.58],[330,1.39],[360,1.27],[377,1.24],[400,1.28],[430,1.43],[460,1.60],[490,1.80],[520,2.01],[550,2.24],[580,2.48],[610,2.71],[640,2.92],[670,3.13],[700,3.33],[730,3.50],[760,3.67],[792,3.83]];

// ---------- styling ----------
const AX = '#262626';
const C_PC = '#0072BD', C_PSW = '#D95319', C_PE = '#EDB120', C_PB = '#7E2F8E';
const FONT = '"Liberation Sans", Arial, Helvetica, sans-serif';
const SERIF = '"Liberation Serif", "Times New Roman", serif';
const pow10 = arr => arr.map(p => [p[0], Math.pow(10, p[1])]);

const TOP_MIN = 0.999e-13, TOP_MAX = 5.3e-9;
const MID_MIN = 0.05, MID_MAX = 10.02;
function minorVals(lo, hi, mn, mx) { const o = []; for (let n = lo; n <= hi; n++) for (let k = 2; k <= 9; k++) { const v = k * Math.pow(10, n); if (v > mn && v < mx) o.push(v); } return o; }

const logRich = {
  b: {fontSize: 18, fontFamily: FONT, color: AX, lineHeight: 20, padding: [3, 0, 0, 0], verticalAlign: 'bottom'},
  s: {fontSize: 13, fontFamily: FONT, color: AX, lineHeight: 14, verticalAlign: 'top'}
};
const logFmt = v => '{b|10}{s|' + Math.round(Math.log10(v)) + '}';

function xAx(gi, pos, showLab, tickLen) {
  return {type: 'value', gridIndex: gi, position: pos, min: 0, max: 792,
    axisLine: {show: true, onZero: false, lineStyle: {color: AX, width: 1}},
    axisTick: {show: true, inside: true, length: tickLen, customValues: tickDays, lineStyle: {color: AX, width: 1}},
    axisLabel: {show: showLab, customValues: tickDays, margin: 9, color: AX, fontSize: 18, fontFamily: FONT,
      formatter: v => tickLabels[tickDays.indexOf(Math.round(v))] || ''},
    splitLine: {show: false}, minorTick: {show: false}};
}
function logMain(gi, mn, mx, majors) {
  return {type: 'log', logBase: 10, gridIndex: gi, position: 'left', min: mn, max: mx,
    axisLine: {show: true, onZero: false, lineStyle: {color: AX, width: 1}},
    axisTick: {show: true, inside: true, length: 8, customValues: majors, lineStyle: {color: AX, width: 1}},
    axisLabel: {show: true, customValues: majors, formatter: logFmt, margin: 7, rich: logRich, color: AX},
    splitLine: {show: false}};
}
function logMinor(gi, mn, mx, vals) {
  return {type: 'log', logBase: 10, gridIndex: gi, position: 'left', min: mn, max: mx,
    axisLine: {show: false}, axisLabel: {show: false}, splitLine: {show: false},
    axisTick: {show: true, inside: true, length: 4.5, customValues: vals, lineStyle: {color: AX, width: 1}}};
}

const scat = (name, color, data, xi, yi) => ({type: 'scatter', name, xAxisIndex: xi, yAxisIndex: yi, data, symbol: 'circle', symbolSize: 5.5,
  itemStyle: {color, opacity: 1}, z: 2, clip: false, silent: true});
const line = (name, color, data, xi, yi, w, z, extra) => Object.assign({type: 'line', name, xAxisIndex: xi, yAxisIndex: yi, data,
  showSymbol: false, symbol: 'none', lineStyle: {color, width: w}, itemStyle: {color}, z, silent: true}, extra || {});

const legRich = {
  phi: {fontFamily: SERIF, fontSize: 17, color: '#000', lineHeight: 22},
  sub: {fontFamily: FONT, fontSize: 13, color: '#000', lineHeight: 12, padding: [10, 0, 0, 0]},
  n: {fontFamily: FONT, fontSize: 16, color: '#000', lineHeight: 22}
};
const legRich2 = {
  phi: {fontFamily: SERIF, fontSize: 20, color: '#000', lineHeight: 22},
  sub: {fontFamily: FONT, fontSize: 15, color: '#000', lineHeight: 12, padding: [11, 0, 0, 0]},
  n: {fontFamily: FONT, fontSize: 18.5, color: '#000', lineHeight: 22}
};
const legText0 = {PC: '{phi|Φ}{sub|PC}', PSW: '{phi|Φ}{sub|PSW}', Pe: '{n|P}{sub|e}', PB: '{n|P}{sub|B}', Sum: '{n|Sum}'};
const legText1 = {PCr: '{phi|Φ}{sub|PCx}{n|/}{phi|Φ}{sub|PCcyl}', PSWr: '{phi|Φ}{sub|PSWx}{n|/}{phi|Φ}{sub|PSWcyl}'};
const noSym = {opacity: 0};

const gText = (x, y, text, opts) => ({type: 'text', x, y, silent: true, z: 100,
  style: Object.assign({text, fill: '#000', font: '19.5px ' + FONT, align: 'center', verticalAlign: 'middle'}, opts || {})});

const option = {
  animation: false,
  backgroundColor: '#fff',
  grid: [
    {left: 87.3, top: 31.2, width: 923.4, height: 403.3, outerBoundsMode: 'none'},
    {left: 87.3, top: 502.7, width: 923.4, height: 168.3, outerBoundsMode: 'none'},
    {left: 87.3, top: 738.3, width: 923.4, height: 170.4, outerBoundsMode: 'none'}
  ],
  xAxis: [xAx(0, 'bottom', false, 9), xAx(1, 'bottom', false, 9), xAx(2, 'bottom', true, 6), xAx(2, 'top', false, 6)],
  yAxis: [
    logMain(0, TOP_MIN, TOP_MAX, [1e-13, 1e-12, 1e-11, 1e-10, 1e-9]),
    logMinor(0, TOP_MIN, TOP_MAX, minorVals(-13, -9, TOP_MIN, TOP_MAX)),
    logMain(1, MID_MIN, MID_MAX, [0.1, 1, 10]),
    logMinor(1, MID_MIN, MID_MAX, minorVals(-2, 0, MID_MIN, MID_MAX)),
    {type: 'value', gridIndex: 2, position: 'left', min: 0, max: 1500, interval: 500,
      axisLine: {show: true, onZero: false, lineStyle: {color: AX}},
      axisTick: {show: true, inside: true, length: 6, lineStyle: {color: AX}},
      axisLabel: {color: AX, fontSize: 18, fontFamily: FONT, margin: 7, formatter: v => String(v)}, splitLine: {show: false}},
    {type: 'value', gridIndex: 2, position: 'right', min: 1, max: 4, interval: 1,
      axisLine: {show: true, onZero: false, lineStyle: {color: C_PC}},
      axisTick: {show: true, inside: true, length: 6, lineStyle: {color: C_PC}},
      axisLabel: {color: C_PC, fontSize: 18, fontFamily: FONT, margin: 8, formatter: v => String(v)}, splitLine: {show: false}}
  ],
  legend: [
    {orient: 'vertical', left: 498, top: 291, align: 'left', padding: [4, 5, 1, 7], itemGap: 4, itemWidth: 43, itemHeight: 8,
      backgroundColor: '#fff', borderColor: '#3a3a3a', borderWidth: 1, borderRadius: 0, selectedMode: false, z: 50,
      data: [{name: 'PC', icon: 'circle'}, {name: 'PSW', icon: 'circle'}, {name: 'Pe', icon: 'circle'}, {name: 'PB', icon: 'circle'}, {name: 'Sum', itemStyle: noSym}],
      formatter: n => legText0[n], textStyle: {rich: legRich}},
    {orient: 'vertical', left: 463, top: 605, align: 'left', padding: [5, 6, 4, 6.5], itemGap: 4.3, itemWidth: 43, itemHeight: 8,
      backgroundColor: '#fff', borderColor: '#3a3a3a', borderWidth: 1, borderRadius: 0, selectedMode: false, z: 50,
      data: [{name: 'PCr', icon: 'circle'}, {name: 'PSWr', icon: 'circle'}],
      formatter: n => legText1[n], textStyle: {rich: legRich2}},
    {orient: 'vertical', left: 99, top: 745.7, align: 'left', padding: [4, 9, 3, 7], itemGap: 2, itemWidth: 42, itemHeight: 10,
      backgroundColor: '#fff', borderColor: '#3a3a3a', borderWidth: 1, borderRadius: 0, selectedMode: false, z: 50,
      data: [{name: 'Comet distance', itemStyle: noSym}, {name: 'Sun distance', itemStyle: noSym}],
      textStyle: {fontSize: 16, fontFamily: FONT, color: '#000', lineHeight: 18}}
  ],
  series: [
    scat('PC', C_PC, pow10(pcDots), 0, 0),
    scat('PSW', C_PSW, pow10(pswDots), 0, 0),
    scat('Pe', C_PE, pow10(peDots), 0, 0),
    scat('PB', C_PB, pow10(pbDots), 0, 0),
    line('PC avg', C_PC, pow10(pcLine), 0, 0, 2, 3),
    line('PSW avg', C_PSW, pow10(pswLineA), 0, 0, 2, 3),
    line('PSW avg2', C_PSW, pow10(pswLineB), 0, 0, 2, 3),
    line('Pe avg', C_PE, pow10(peLine), 0, 0, 2, 3),
    line('PB avg', C_PB, pow10(pbLine), 0, 0, 2, 3),
    line('Sum', '#000', pow10(sumLine), 0, 0, 2.2, 4),

    scat('PCr', C_PC, pow10(pcRatioDots), 1, 2),
    scat('PSWr', C_PSW, pow10(pswRatioDots), 1, 2),
    line('PCr avg', C_PC, pow10(pcRatioLine), 1, 2, 2, 3),
    line('PSWr avg', C_PSW, pow10(pswRatioLineA), 1, 2, 2, 3),
    line('PSWr avg2', C_PSW, pow10(pswRatioLineB), 1, 2, 2, 3),
    line('unity', '#000', unityLine, 1, 2, 2, 4),

    line('Comet distance', '#000', cometDist, 2, 4, 1.6, 3),
    line('Sun distance', C_PC, sunDist, 2, 5, 1.5, 3, {lineStyle: {color: C_PC, width: 1.5, type: [10, 4, 2, 4]}})
  ],
  graphic: [
    gText(549, 15, 'Components of the total pressure', {font: 'bold 20px ' + FONT}),
    gText(549, 480, '{t|Ratio of }{phi|Φ}{sub|P}{t| X to cylindrical components}', {rich: {
      t: {fontFamily: FONT, fontWeight: 'bold', fontSize: 20, lineHeight: 26, fill: '#000'},
      phi: {fontFamily: SERIF, fontWeight: 'bold', fontSize: 21, lineHeight: 26, fill: '#000'},
      sub: {fontFamily: FONT, fontWeight: 'bold', fontSize: 15, lineHeight: 14, padding: [12, 0, 0, 0], fill: '#000'}}}),
    gText(549, 723, 'Distance from comet and Sun', {font: 'bold 20px ' + FONT}),
    Object.assign(gText(26, 231.5, 'Pressure (N/m{sup|2})', {rich: {sup: {fontFamily: FONT, fontSize: 13, lineHeight: 14, padding: [0, 0, 10, 0], fill: '#000'}}}), {rotation: Math.PI / 2}),
    Object.assign(gText(29, 586.5, 'Log ratio'), {rotation: Math.PI / 2}),
    Object.assign(gText(25, 823, 'Comet distance (km)'), {rotation: Math.PI / 2}),
    Object.assign(gText(1045, 823, 'Sun distance (AU)', {fill: C_PC}), {rotation: Math.PI / 2}),
    gText(549, 951.5, 'Date'),
    gText(1016, 137.7, 'Sum', {font: 'bold 15px ' + FONT, align: 'left'}),
    gText(1016, 158, 'Electron', {font: 'bold 15px ' + FONT, align: 'left', fill: C_PE}),
    gText(1016, 176.7, 'pressure', {font: 'bold 15px ' + FONT, align: 'left', fill: C_PE}),
    gText(1016, 201.7, 'Magnetic', {font: 'bold 15px ' + FONT, align: 'left', fill: C_PB}),
    gText(1016, 220, 'pressure', {font: 'bold 15px ' + FONT, align: 'left', fill: C_PB}),
    gText(1016, 245, 'SW mom.', {font: 'bold 15px ' + FONT, align: 'left', fill: C_PSW}),
    gText(1016, 263.5, 'flux', {font: 'bold 15px ' + FONT, align: 'left', fill: C_PSW}),
    gText(1016, 317, 'Comet', {font: 'bold 15px ' + FONT, align: 'left', fill: C_PC}),
    gText(1016, 336, 'mom. flux', {font: 'bold 15px ' + FONT, align: 'left', fill: C_PC})
  ]
};

const chart = echarts.init(document.getElementById('c'), null, {renderer: 'canvas'});
chart.setOption(option);
</script></body></html>
